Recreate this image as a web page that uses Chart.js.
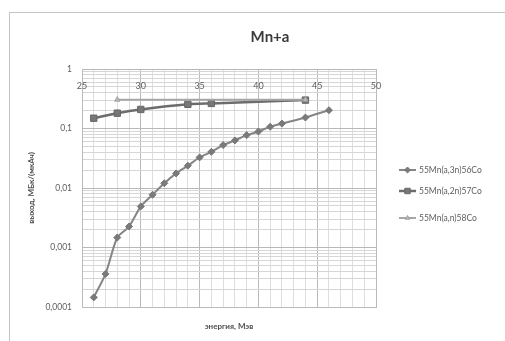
<!DOCTYPE html>
<html>
<head>
<meta charset="utf-8">
<script src="https://cdn.jsdelivr.net/npm/chart.js@4/dist/chart.umd.min.js"></script>
<style>
  html, body { margin: 0; padding: 0; background: #fff; overflow: hidden; }
  #wrap { position: relative; width: 505px; height: 341px; overflow: hidden; }
  #frame { position: absolute; left: 9px; top: 12px; width: 700px; height: 500px;
           border-left: 1px solid #c4c4c4; border-top: 1px solid #c4c4c4; }
  canvas { position: absolute; left: 0; top: 0; }
</style>
</head>
<body>
<div id="wrap">
  <div id="frame"></div>
  <canvas id="c" width="505" height="341"></canvas>
</div>
<script>
// ---- data ----
const chartTitle = 'Mn+a';
const xAxisTitle = 'энергия, Мэв';
const yAxisTitle = 'выход, МБк/(мкАч)';
const seriesNames = ['55Mn(a,3n)56Co', '55Mn(a,2n)57Co', '55Mn(a,n)58Co'];

const energy3n = [26, 27, 28, 29, 30, 31, 32, 33, 34, 35, 36, 37, 38, 39, 40, 41, 42, 44, 46];
const yield3n  = [0.000145, 0.00036, 0.00147, 0.00225, 0.0049, 0.0077, 0.012, 0.0176, 0.0237, 0.0327,
                  0.0406, 0.0526, 0.063, 0.0773, 0.089, 0.107, 0.121, 0.153, 0.203];

const energy2n = [26, 28, 30, 34, 36, 44];
const yield2n  = [0.149, 0.181, 0.209, 0.255, 0.264, 0.3];

const energyN = [28, 44];
const yieldN  = [0.305, 0.305];

const xTickLabels = [25, 30, 35, 40, 45, 50];
const yTickLabels = { '1': '1', '0.1': '0,1', '0.01': '0,01', '0.001': '0,001', '0.0001': '0,0001' };

const FONT = 'Lato, "Open Sans", "DejaVu Sans", sans-serif';

function zip(xs, ys) { return xs.map((x, i) => ({ x: x, y: ys[i] })); }
function isDecade(v) { const l = Math.log10(v); return Math.abs(l - Math.round(l)) < 1e-9; }

const datasets = [
  { label: seriesNames[0], data: zip(energy3n, yield3n), borderColor: '#858585', backgroundColor: '#7a7a7a',
    borderWidth: 2, pointStyle: 'rectRot', pointRadius: 3.5, pointBorderWidth: 1, pointBorderColor: '#777', order: 1 },
  { label: seriesNames[1], data: zip(energy2n, yield2n), borderColor: '#6c6c6c', backgroundColor: '#777',
    borderWidth: 2.5, pointStyle: 'rect', pointRadius: 4.5, pointBorderWidth: 1, pointBorderColor: '#666', order: 2 },
  { label: seriesNames[2], data: zip(energyN, yieldN), borderColor: '#a6a6a6', backgroundColor: '#bdbdbd',
    borderWidth: 2, pointStyle: 'triangle', pointRadius: 3, pointBorderWidth: 1, pointBorderColor: '#a0a0a0', order: 0 }
];

const topLabelsPlugin = {
  id: 'topLabels',
  afterDraw(chart) {
    const ctx = chart.ctx, xs = chart.scales.x, area = chart.chartArea;
    ctx.save();
    ctx.font = '9px ' + FONT;
    ctx.fillStyle = '#5e5e5e';
    ctx.textAlign = 'center';
    ctx.textBaseline = 'middle';
    xTickLabels.forEach(v => ctx.fillText(String(v), xs.getPixelForValue(v), area.top + 17));
    // title
    ctx.font = 'bold 15px ' + FONT;
    ctx.fillStyle = '#3a3a3a';
    ctx.fillText(chartTitle, 270, 37);
    // legend
    const items = [170, 191, 218];
    chart.data.datasets.forEach((ds, i) => {
      const y = items[i];
      ctx.strokeStyle = ds.borderColor;
      ctx.lineWidth = ds.borderWidth;
      ctx.beginPath(); ctx.moveTo(399, y); ctx.lineTo(416, y); ctx.stroke();
      const opts = { pointStyle: ds.pointStyle, radius: ds.pointRadius * 0.85, borderWidth: 1, rotation: 0 };
      ctx.fillStyle = ds.backgroundColor;
      ctx.strokeStyle = ds.pointBorderColor;
      ctx.lineWidth = 1;
      if (Chart.helpers && Chart.helpers.drawPoint) {
        Chart.helpers.drawPoint(ctx, opts, 407.5, y);
      }
      ctx.fillStyle = '#5e5e5e';
      ctx.font = '8.5px ' + FONT;
      ctx.textAlign = 'left';
      ctx.fillText(ds.label, 419, y + 0.5);
      ctx.textAlign = 'center';
    });
    ctx.restore();
  }
};

new Chart(document.getElementById('c'), {
  type: 'line',
  data: { datasets: datasets },
  plugins: [topLabelsPlugin],
  options: {
    responsive: false,
    animation: false,
    layout: { padding: { top: 69, right: 129, left: 0, bottom: 0 } },
    plugins: { legend: { display: false }, title: { display: false }, tooltip: { enabled: false } },
    elements: { line: { tension: 0.25 } },
    scales: {
      x: {
        type: 'linear', min: 25, max: 50,
        ticks: { stepSize: 1, display: false },
        grid: {
          drawTicks: false,
          color: ctx => (ctx.tick && ctx.tick.value % 5 === 0) ? '#bababa' : '#dedede',
          lineWidth: 1
        },
        border: { color: '#bababa' },
        title: { display: true, text: xAxisTitle, color: '#4e4e4e', font: { family: FONT, size: 8, weight: 'bold' },
                 padding: { top: 0, bottom: 10 } },
        afterFit(scale) { scale.height = 34; }
      },
      y: {
        type: 'logarithmic', min: 0.0001, max: 1,
        afterBuildTicks(scale) {
          scale.ticks = scale.ticks.filter(t => {
            const e = Math.pow(10, Math.floor(Math.log10(t.value) + 1e-9));
            const s = t.value / e;
            return Math.abs(s - Math.round(s)) < 1e-6;
          });
        },
        ticks: {
          autoSkip: false,
          padding: 10,
          color: '#5e5e5e',
          font: { family: FONT, size: 8.5 },
          callback: function (v) {
            if (!isDecade(v)) return '';
            const key = String(Math.pow(10, Math.round(Math.log10(v))));
            return yTickLabels[key] !== undefined ? yTickLabels[key] : '';
          }
        },
        grid: {
          drawTicks: false,
          color: ctx => (ctx.tick && isDecade(ctx.tick.value)) ? '#b8b8b8' : '#d6d6d6',
          lineWidth: 1
        },
        border: { color: '#bababa' },
        title: { display: true, text: yAxisTitle, color: '#4e4e4e', font: { family: FONT, size: 8, weight: 'bold' },
                 padding: { top: 27, bottom: 0 } },
        afterFit(scale) { scale.width = 82; }
      }
    }
  }
});
</script>
</body>
</html>
